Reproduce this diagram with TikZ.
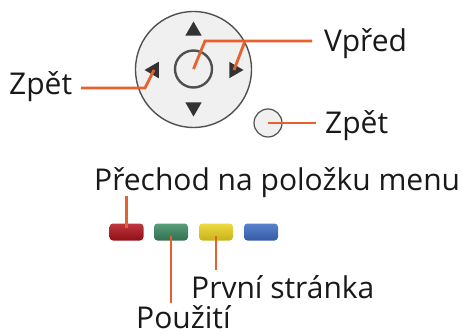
\documentclass[tikz,border=0pt]{standalone}
\usepackage{fontspec}
\setmainfont{Open Sans}
\usetikzlibrary{shapes.geometric}
\definecolor{callorange}{HTML}{E8602C}
\definecolor{keyfill}{HTML}{F0F0F0}
\definecolor{keyedge}{HTML}{505050}
\definecolor{keyred}{HTML}{B3141C}
\definecolor{keygreen}{HTML}{3C8C62}
\definecolor{keyyellow}{HTML}{EAD21E}
\definecolor{keyblue}{HTML}{3C6CC4}

\begin{document}
\begin{tikzpicture}[x=1pt,y=-1pt]
\tikzstyle{callout}=[draw=callorange,line width=2.8pt]
\tikzstyle{lbl}=[anchor=base west,inner sep=0pt,font=\fontsize{30}{34}\selectfont,text=black!90]
\tikzstyle{arrowkey}=[fill=black!80,regular polygon,regular polygon sides=3,inner sep=0pt,minimum size=19pt]
\tikzstyle{colorkey}=[rounded corners=3.5pt,minimum width=34pt,minimum height=17pt,inner sep=0pt]
\useasboundingbox (0,0) rectangle (462,334);
\node [circle,draw=keyedge,line width=1.4pt,fill=keyfill,minimum size=116pt] (dpad) at (193.5,69.5) {};
\node [circle,draw=keyedge,line width=2.4pt,minimum size=37pt] (okkey) at (193.5,69) {};
\node [arrowkey] (upkey) at (193.5,31) {};
\node [arrowkey,shape border rotate=180] (downkey) at (193.5,107) {};
\node [arrowkey,shape border rotate=90] (leftkey) at (154,70) {};
\node [arrowkey,shape border rotate=-90] (rightkey) at (234,70) {};
\node [circle,draw=keyedge,line width=1.2pt,fill=keyfill,minimum size=28pt] (backkey) at (268,123) {};
\node [colorkey,top color=keyred!85,bottom color=keyred!80!black] (redkey) at (126.5,232) {};
\node [colorkey,top color=keygreen!85,bottom color=keygreen!80!black] (greenkey) at (171,232) {};
\node [colorkey,top color=keyyellow!85,bottom color=keyyellow!85!black] (yellowkey) at (216,232) {};
\node [colorkey,top color=keyblue!85,bottom color=keyblue!85!black] (bluekey) at (261,232) {};
\node [lbl] (zpetl) at (9,95) {Zpět};
\node [lbl] (vpred) at (324,52) {Vpřed};
\node [lbl] (zpetr) at (325,133) {Zpět};
\node [lbl] (prechod) at (94,190) {Přechod na položku menu};
\node [lbl] (prvni) at (191,298) {První stránka};
\node [lbl] (pouziti) at (136,328) {Použití};
\coordinate (vend) at (312,41);
\coordinate (vbend) at (205,41);
\coordinate (vfork) at (245,41);
\coordinate (zlend) at (81,88);
\coordinate (zlbend) at (145,88);
\coordinate (zrend) at (316,123);
\coordinate (rtop) at (126.5,196);
\coordinate (gbot) at (171,303);
\coordinate (ybot) at (216,270);
\draw [callout] (okkey.center) -- (vbend) -- (vend);
\draw [callout] (vfork) -- (rightkey.center);
\draw [callout] (zlend) -- (zlbend) -- (leftkey.center);
\draw [callout] (backkey.center) -- (zrend);
\draw [callout,shorten >=4pt] (rtop) -- (redkey.center);
\draw [callout,shorten <=4pt] (greenkey.center) -- (gbot);
\draw [callout,shorten <=4pt] (yellowkey.center) -- (ybot);
\end{tikzpicture}
\end{document}
